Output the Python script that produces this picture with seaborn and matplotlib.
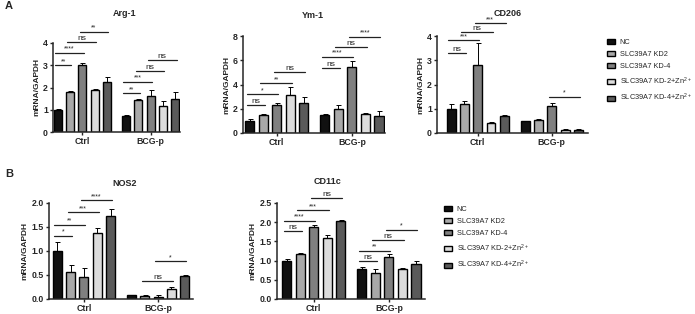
import numpy as np
import pandas as pd
import seaborn as sns
import matplotlib
matplotlib.use("Agg")
import matplotlib.pyplot as plt
from matplotlib.patches import Patch

sns.set_style("ticks")
plt.rcParams["font.family"] = ["Liberation Sans", "DejaVu Sans"]
plt.rcParams["axes.linewidth"] = 1.1
plt.rcParams["mathtext.default"] = "regular"

groups = ["Ctrl", "BCG-p"]
conditions = ["NC", "SLC39A7 KD2", "SLC39A7 KD-4", "SLC39A7 KD-2+Zn2+", "SLC39A7 KD-4+Zn2+"]
legend_labels = ["NC", "SLC39A7 KD2", "SLC39A7 KD-4",
                 "SLC39A7 KD-2+Zn$^{2+}$", "SLC39A7 KD-4+Zn$^{2+}$"]
colors = ["#111111", "#a8a8a8", "#808080", "#dcdcdc", "#5a5a5a"]

# means / errors: Ctrl (5 conditions) then BCG-p (5 conditions)
arg1_mean = [1.0, 1.8, 3.0, 1.88, 2.25, 0.72, 1.42, 1.62, 1.18, 1.5]
arg1_err = [0.03, 0.03, 0.08, 0.05, 0.2, 0.05, 0.05, 0.28, 0.22, 0.32]
ym1_mean = [1.0, 1.45, 2.3, 3.1, 2.5, 1.5, 1.95, 5.45, 1.6, 1.4]
ym1_err = [0.15, 0.12, 0.15, 0.7, 0.5, 0.1, 0.4, 0.5, 0.05, 0.45]
cd206_mean = [1.0, 1.2, 2.82, 0.4, 0.7, 0.48, 0.52, 1.12, 0.13, 0.13]
cd206_err = [0.2, 0.1, 0.9, 0.05, 0.03, 0.02, 0.05, 0.1, 0.02, 0.02]
nos2_mean = [1.0, 0.57, 0.45, 1.37, 1.73, 0.08, 0.07, 0.05, 0.21, 0.47]
nos2_err = [0.18, 0.13, 0.2, 0.1, 0.15, 0.01, 0.01, 0.03, 0.04, 0.02]
cd11c_mean = [1.0, 1.18, 1.88, 1.58, 2.03, 0.77, 0.68, 1.1, 0.79, 0.92]
cd11c_err = [0.04, 0.02, 0.06, 0.08, 0.03, 0.07, 0.09, 0.08, 0.02, 0.08]

# significance: (group index, bar i, bar j, height, label)
arg1_sig = [(0, 0, 1, 3.0, "**"), (0, 0, 2, 3.56, "****"), (0, 1, 3, 4.06, "ns"), (0, 2, 4, 4.5, "**"),
            (1, 0, 1, 1.74, "**"), (1, 0, 2, 2.26, "***"), (1, 1, 3, 2.74, "ns"), (1, 2, 4, 3.24, "ns")]
ym1_sig = [(0, 0, 1, 2.3, "ns"), (0, 0, 2, 3.2, "*"), (0, 1, 3, 4.1, "**"), (0, 2, 4, 5.0, "ns"),
           (1, 0, 1, 5.35, "ns"), (1, 0, 2, 6.3, "****"), (1, 1, 3, 7.1, "ns"), (1, 2, 4, 7.95, "****")]
cd206_sig = [(0, 0, 1, 3.3, "ns"), (0, 0, 2, 3.83, "***"), (0, 1, 3, 4.15, "ns"), (0, 2, 4, 4.52, "***"),
             (1, 2, 4, 1.5, "*")]
nos2_sig = [(0, 0, 1, 1.32, "*"), (0, 0, 2, 1.55, "**"), (0, 1, 3, 1.81, "***"), (0, 2, 4, 2.06, "****"),
            (1, 1, 3, 0.38, "ns"), (1, 2, 4, 0.79, "*")]
cd11c_sig = [(0, 0, 1, 1.77, "ns"), (0, 0, 2, 2.04, "****"), (0, 1, 3, 2.32, "***"), (0, 2, 4, 2.62, "ns"),
             (1, 0, 1, 0.98, "ns"), (1, 0, 2, 1.26, "**"), (1, 1, 3, 1.54, "ns"), (1, 2, 4, 1.8, "*")]

W, H = 695, 314
fig = plt.figure(figsize=(W / 100, H / 100), dpi=100)


def px_axes(left, right, top, bottom):
    return fig.add_axes([left / W, 1 - bottom / H, (right - left) / W, (bottom - top) / H])


def panel(ax, title, mean, err, sig, yticks, fmt, xlim, title_xy):
    df = pd.DataFrame({
        "group": np.repeat(groups, len(conditions)),
        "condition": conditions * len(groups),
        "value": mean,
        "err": err,
    })
    sns.barplot(df, x="group", y="value", hue="condition", hue_order=conditions,
                order=groups, palette=colors, errorbar=None, width=0.9, gap=0.33,
                edgecolor="black", linewidth=1.0, legend=False, ax=ax)
    bar_conts = list(ax.containers)
    centers = np.zeros((len(groups), len(conditions)))
    for k, cont in enumerate(bar_conts):
        for g, bar in enumerate(cont):
            cx = bar.get_x() + bar.get_width() / 2
            centers[g, k] = cx
            e = df.loc[(df.group == groups[g]) & (df.condition == conditions[k]), "err"].iloc[0]
            ax.errorbar(cx, bar.get_height(), yerr=[[0], [e]], color="black",
                        lw=0.7, capsize=1.8, capthick=0.7, zorder=1)
    for g, i, j, y, lab in sig:
        x0, x1 = centers[g, i] - 0.04, centers[g, j] + 0.02
        ax.plot([x0, x1], [y, y], color="#222222", lw=0.9, clip_on=False)
        ax.text((x0 + x1) / 2, y, lab, ha="center", va="bottom", fontsize=5 if lab != "ns" else 6,
                color="#222222", clip_on=False)
    ax.set_xlim(*xlim)
    ax.set_ylim(0, yticks[-1])
    ax.set_yticks(yticks)
    ax.set_yticklabels([fmt.format(t) for t in yticks], fontweight="bold", fontsize=6.3)
    ax.set_xticks(range(len(groups)))
    ax.set_xticklabels(groups, fontweight="bold", fontsize=6.3)
    ax.set_xlabel("")
    ax.set_ylabel("mRNA/GAPDH", fontweight="bold", fontsize=6, labelpad=2)
    ax.tick_params(length=2.5, width=1.0, pad=1.2)
    sns.despine(ax=ax)
    fig.text(title_xy[0] / W, 1 - title_xy[1] / H, title,
             ha="center", va="center", fontweight="bold", fontsize=6.5)


ax1 = px_axes(53, 180, 43, 132)
panel(ax1, "Arg-1", arg1_mean, arg1_err, arg1_sig, [0, 1, 2, 3, 4], "{:.0f}", (-0.43, 1.43), (125, 14))
ax2 = px_axes(243, 385, 36, 133)
panel(ax2, "Ym-1", ym1_mean, ym1_err, ym1_sig, [0, 2, 4, 6, 8], "{:.0f}", (-0.45, 1.44), (313, 15))
ax3 = px_axes(437, 588, 36, 133)
panel(ax3, "CD206", cd206_mean, cd206_err, cd206_sig, [0, 1, 2, 3, 4], "{:.0f}", (-0.55, 1.49), (508, 13))
ax4 = px_axes(49, 193, 203, 299)
panel(ax4, "NOS2", nos2_mean, nos2_err, nos2_sig, [0, 0.5, 1.0, 1.5, 2.0], "{:.1f}", (-0.47, 1.47), (125, 183))
ax5 = px_axes(277, 425, 203, 299)
panel(ax5, "CD11c", cd11c_mean, cd11c_err, cd11c_sig, [0, 0.5, 1.0, 1.5, 2.0, 2.5], "{:.1f}",
      (-0.49, 1.48), (328, 182))

handles = [Patch(facecolor=c, edgecolor="black", linewidth=1.0) for c in colors]
for x0, y0 in [(607, 39), (444, 206)]:
    fig.legend(handles, legend_labels, loc="upper left", bbox_to_anchor=(x0 / W, 1 - y0 / H),
               frameon=False, fontsize=5.3, handlelength=1.1, handleheight=0.65,
               handletextpad=0.6, labelspacing=0.7, borderpad=0, borderaxespad=0)

fig.text(5 / W, 1 - 6 / H, "A", fontweight="bold", fontsize=8, va="center")
fig.text(5 / W, 1 - 174 / H, "B", fontweight="bold", fontsize=8, va="center")

fig.savefig("out.png", dpi=100)
